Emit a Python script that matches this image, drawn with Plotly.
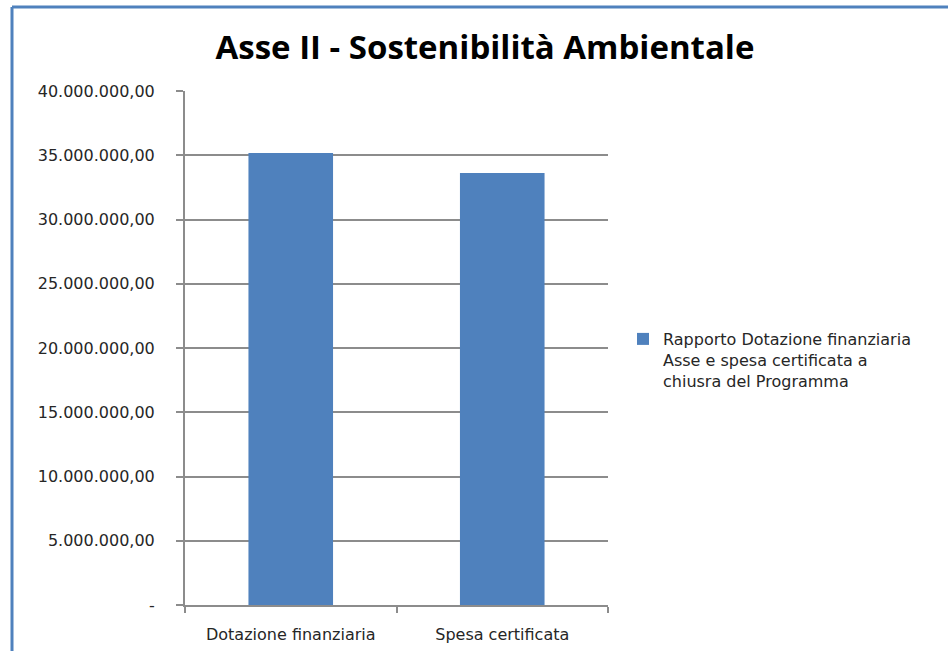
import plotly.graph_objects as go

CATEGORIES = ["Dotazione finanziaria", "Spesa certificata"]
VALUES = [35170000, 33620000]
SERIES_NAME = "Rapporto Dotazione finanziaria<br>Asse e spesa certificata a<br>chiusra del Programma"
Y_TICKS = [0, 5e6, 10e6, 15e6, 20e6, 25e6, 30e6, 35e6, 40e6]
Y_LABELS = ["-", "5.000.000,00", "10.000.000,00", "15.000.000,00", "20.000.000,00",
            "25.000.000,00", "30.000.000,00", "35.000.000,00", "40.000.000,00"]

BAR_BLUE = "#4F81BD"
GRID = "#8C8C8C"
TEXT = "#262626"
FONT = "DejaVu Sans, sans-serif"
TITLE_FONT = "Open Sans, sans-serif"

W, H = 948, 651
L, R, T, B = 185, 340, 91, 46
PW, PH = W - L - R, H - T - B


def px_x(x):
    return (x - L) / PW


def px_y(y):
    return 1 - (y - T) / PH


fig = go.Figure(
    go.Bar(
        x=CATEGORIES,
        y=VALUES,
        name=SERIES_NAME,
        marker=dict(color=BAR_BLUE, line=dict(width=0)),
        showlegend=True,
    )
)

fig.update_layout(
    width=W,
    height=H,
    margin=dict(l=L, r=R, t=T, b=B),
    paper_bgcolor="#FFFFFF",
    plot_bgcolor="#FFFFFF",
    font=dict(family=FONT, size=16, color=TEXT),
    bargap=0.6,
    title=dict(
        text="<b>Asse II - Sostenibilità Ambientale</b>",
        x=px_x(485), xref="paper", xanchor="center",
        y=1 - 47 / H, yanchor="middle",
        font=dict(family=TITLE_FONT, size=33, color="#000000"),
    ),
    legend=dict(
        x=px_x(623), xref="paper", xanchor="left",
        y=px_y(360), yanchor="middle",
        valign="top",
        font=dict(family=FONT, size=16, color=TEXT),
        bgcolor="rgba(0,0,0,0)",
        itemwidth=30,
    ),
    shapes=[
        dict(type="line", xref="paper", yref="paper",
             x0=px_x(12), x1=px_x(W + 5), y0=px_y(7), y1=px_y(7),
             line=dict(color=BAR_BLUE, width=3)),
        dict(type="line", xref="paper", yref="paper",
             x0=px_x(12), x1=px_x(12), y0=px_y(7), y1=px_y(H + 5),
             line=dict(color=BAR_BLUE, width=3)),
    ],
)

fig.update_xaxes(
    automargin=False,
    showline=True,
    linecolor=GRID,
    linewidth=2,
    ticks="outside",
    tickson="boundaries",
    ticklen=6,
    tickcolor=GRID,
    tickwidth=2,
    showgrid=False,
    ticklabelstandoff=14,
    tickfont=dict(family=FONT, size=16, color=TEXT),
)

fig.update_yaxes(
    automargin=False,
    range=[0, 40e6],
    tickvals=Y_TICKS,
    ticktext=Y_LABELS,
    showline=True,
    linecolor=GRID,
    linewidth=2,
    ticks="outside",
    ticklen=7,
    tickcolor=GRID,
    tickwidth=2,
    showgrid=True,
    gridcolor=GRID,
    gridwidth=2,
    zeroline=False,
    ticklabelstandoff=18,
    tickfont=dict(family=FONT, size=16, color=TEXT),
)

# the page body has a default 8px margin; drop it so the figure sits at the corner
fig.write_html(
    "out.html",
    config={"displayModeBar": False},
    post_script="document.body.style.margin='0';",
)
